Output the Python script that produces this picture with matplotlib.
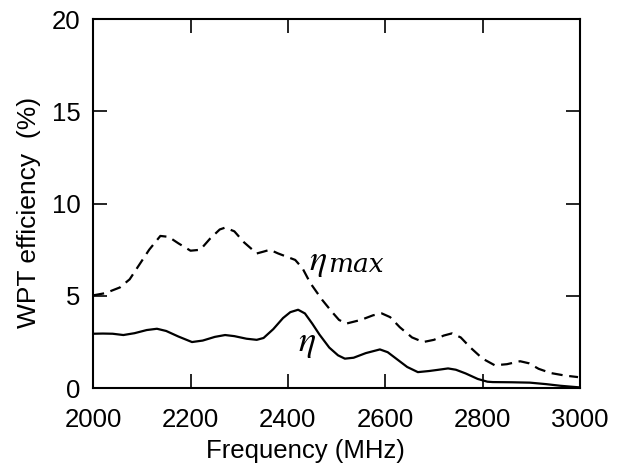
import matplotlib
matplotlib.use('Agg')
import matplotlib.pyplot as plt

plt.rcParams['font.family'] = ['Liberation Sans', 'DejaVu Sans']
plt.rcParams['mathtext.fontset'] = 'stix'

# eta (solid)
freq_eta = [2000, 2020, 2040, 2062, 2085, 2110, 2131, 2150, 2175, 2203, 2225, 2250,
            2271, 2290, 2315, 2336, 2350, 2370, 2390, 2405, 2421, 2435, 2450, 2465,
            2485, 2503, 2517, 2535, 2560, 2589, 2605, 2625, 2645, 2667, 2690, 2710,
            2729, 2745, 2765, 2790, 2810, 2821, 2860, 2897, 2930, 2960, 2996]
eta = [2.95, 2.96, 2.95, 2.88, 2.98, 3.15, 3.22, 3.1, 2.8, 2.5, 2.58, 2.78,
       2.88, 2.82, 2.68, 2.62, 2.72, 3.2, 3.8, 4.12, 4.25, 4.05, 3.5, 2.9,
       2.2, 1.78, 1.6, 1.65, 1.9, 2.1, 1.95, 1.55, 1.15, 0.87, 0.93, 1.0,
       1.07, 1.0, 0.8, 0.5, 0.35, 0.33, 0.32, 0.3, 0.22, 0.13, 0.05]

# eta_max (dashed)
freq_max = [2000, 2025, 2055, 2075, 2095, 2115, 2138, 2155, 2175, 2200, 2220, 2240,
            2260, 2271, 2290, 2310, 2336, 2350, 2363, 2380, 2400, 2415, 2430, 2446,
            2470, 2490, 2505, 2520, 2550, 2575, 2593, 2610, 2630, 2655, 2678, 2700,
            2720, 2737, 2755, 2775, 2800, 2825, 2850, 2877, 2895, 2915, 2940, 2970, 2996]
eta_max = [5.03, 5.15, 5.46, 5.9, 6.7, 7.5, 8.25, 8.2, 7.85, 7.45, 7.5, 8.1,
           8.6, 8.7, 8.5, 7.9, 7.3, 7.4, 7.5, 7.3, 7.1, 6.95, 6.5, 5.7,
           4.8, 4.15, 3.7, 3.5, 3.7, 3.95, 4.05, 3.85, 3.3, 2.75, 2.5, 2.62,
           2.85, 2.97, 2.75, 2.2, 1.6, 1.24, 1.3, 1.46, 1.35, 1.05, 0.82, 0.68, 0.6]

fig = plt.figure(figsize=(6.17, 4.66), dpi=100)
ax = fig.add_axes([0.151, 0.167, 0.789, 0.792])

ax.plot(freq_eta, eta, color='black', lw=1.6)
ax.plot(freq_max, eta_max, color='black', lw=1.6, dashes=(5, 3))

# curve labels
ax.text(2444, 6.4, r'$\eta$', fontsize=26, va='baseline', ha='left')
ax.text(2482, 6.29, 'max', fontsize=19, family='DejaVu Serif', style='italic',
        va='baseline', ha='left')
ax.text(2420, 2.0, r'$\eta$', fontsize=26, va='baseline', ha='left')

ax.set_xlim(2000, 3000)
ax.set_ylim(0, 20)
ax.set_xticks([2000, 2200, 2400, 2600, 2800, 3000])
ax.set_yticks([0, 5, 10, 15, 20])
ax.tick_params(direction='in', top=True, right=True, labelsize=18.5, length=10, width=1.2)
ax.tick_params(axis='x', pad=14.5)
ax.tick_params(axis='y', pad=9)
for s in ax.spines.values():
    s.set_linewidth(1.5)

ax.set_xlabel('Frequency (MHz)', fontsize=18.5)
ax.xaxis.set_label_coords(0.437, -0.138)
ax.set_ylabel('WPT efficiency  (%)', fontsize=19)
ax.yaxis.set_label_coords(-0.107, 0.477)

fig.savefig('out.png', dpi=100)
